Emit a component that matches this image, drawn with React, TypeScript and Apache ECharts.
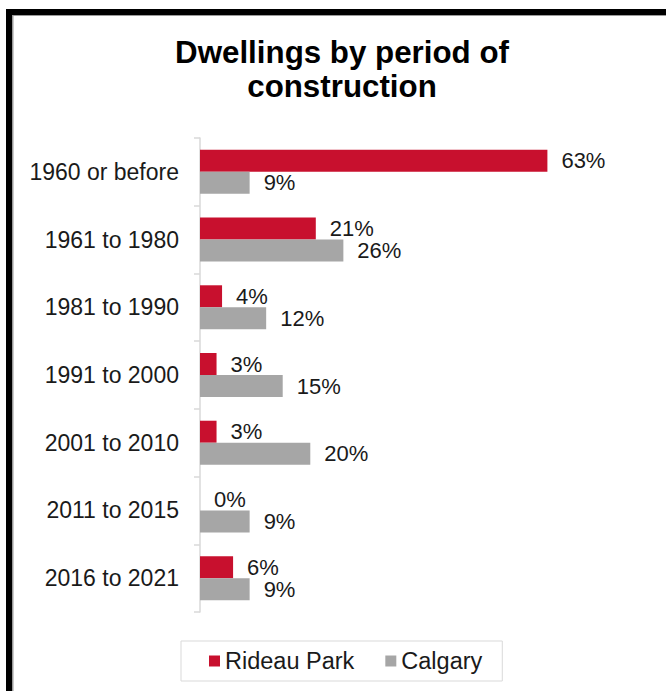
import React, { useEffect, useRef } from "react";
import * as echarts from "echarts";

const categories = [
  "1960 or before",
  "1961 to 1980",
  "1981 to 1990",
  "1991 to 2000",
  "2001 to 2010",
  "2011 to 2015",
  "2016 to 2021",
];
const rideauPark = [63, 21, 4, 3, 3, 0, 6];
const calgary = [9, 26, 12, 15, 20, 9, 9];
const seriesNames = ["Rideau Park", "Calgary"];
const titleText = "Dwellings by period of\nconstruction";

const FONT = "'Liberation Sans', Arial, sans-serif";

export default function App() {
  const ref = useRef<HTMLDivElement>(null);
  useEffect(() => {
    if (!ref.current) return;
    const chart = echarts.init(ref.current, undefined, { renderer: "svg" });
    const labelStyle = {
      show: true,
      position: "right",
      distance: 14,
      formatter: "{c}%",
      fontSize: 22,
      fontFamily: FONT,
      color: "#1a1a1a",
    };
    chart.setOption({
      animation: false,
      backgroundColor: "#ffffff",
      textStyle: { fontFamily: FONT },
      graphic: [
        { type: "rect", shape: { x: 6, y: 9, width: 6, height: 700 }, style: { fill: "#000" }, silent: true },
        { type: "rect", shape: { x: 6, y: 9, width: 670, height: 6 }, style: { fill: "#000" }, silent: true },
        { type: "rect", shape: { x: 12, y: 15, width: 1.5, height: 700 }, style: { fill: "#9a9a9a" }, silent: true },
        { type: "rect", shape: { x: 12, y: 15, width: 670, height: 1 }, style: { fill: "#9a9a9a" }, silent: true },
        {
          type: "text",
          x: 342,
          y: 35,
          style: {
            text: titleText,
            fontSize: 31.3,
            fontWeight: "bold",
            fontFamily: FONT,
            textAlign: "center",
            lineHeight: 34,
            fill: "#000",
          },
        },
      ],
      legend: {
        data: seriesNames,
        left: 181,
        top: 641,
        icon: "rect",
        itemWidth: 11,
        itemHeight: 11,
        itemGap: 31,
        padding: [8, 20, 8, 28],
        borderColor: "#d9d9d9",
        borderWidth: 1,
        textStyle: { fontSize: 23.5, fontFamily: FONT, color: "#1a1a1a" },
      },
      grid: { left: 200, top: 138, width: 386, height: 474, containLabel: false },
      xAxis: {
        type: "value",
        min: 0,
        max: 70,
        show: false,
        splitLine: { show: false },
      },
      yAxis: {
        type: "category",
        data: categories,
        inverse: true,
        axisLine: { show: true, lineStyle: { color: "#d9d9d9", width: 1.5 } },
        axisTick: { show: true, length: 6, lineStyle: { color: "#d9d9d9", width: 1.5 } },
        axisLabel: { margin: 21, fontSize: 23, fontFamily: FONT, color: "#1a1a1a" },
      },
      series: [
        {
          name: seriesNames[0],
          type: "bar",
          data: rideauPark,
          barWidth: 22,
          barGap: "0%",
          itemStyle: { color: "#c8102e" },
          label: labelStyle,
        },
        {
          name: seriesNames[1],
          type: "bar",
          data: calgary,
          barWidth: 22,
          barGap: "0%",
          itemStyle: { color: "#a6a6a6" },
          label: labelStyle,
        },
      ],
    });
    return () => chart.dispose();
  }, []);
  return (
    <div
      ref={ref}
      style={{ position: "absolute", left: 0, top: 0, width: 666, height: 691, background: "#fff" }}
    />
  );
}
